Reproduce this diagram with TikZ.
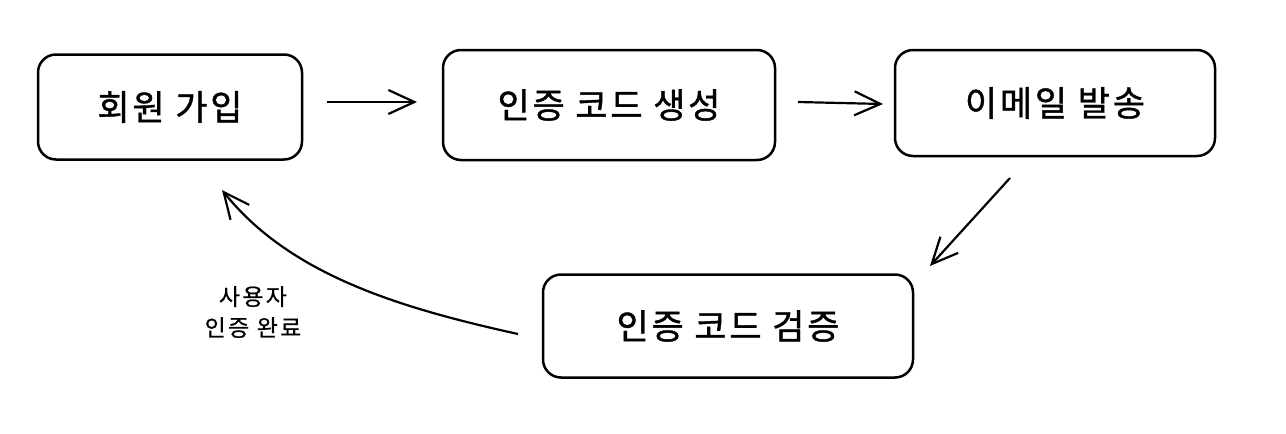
\documentclass[tikz,border=0pt]{standalone}
\usepackage{fontspec}
\setmainfont[FakeBold=1.1, LetterSpace=8]{Noto Sans CJK KR}
\newfontfamily\lblfont[FakeBold=0.6, LetterSpace=10]{Noto Sans CJK KR}
\usetikzlibrary{arrows.meta,calc}
\tikzset{
  box/.style={draw=black, line width=2.5pt, rounded corners=18pt, fill=white, font=\fontsize{35}{42}\selectfont, inner sep=0pt},
  conn/.style={line width=2.2pt, -{Straight Barb[length=26pt,width=24pt,line width=2.2pt]}},
  lbl/.style={font=\lblfont\fontsize{23}{31}\selectfont, align=center}
}
\begin{document}
\begin{tikzpicture}[x=1pt,y=-1pt]
\useasboundingbox[fill=white] (0,0) rectangle (1286,434);
\node[box, minimum width=264pt, minimum height=105pt] (b1) at (170,107) {회원 가입};
\node[box, minimum width=332pt, minimum height=110pt] (b2) at (609,105) {인증 코드 생성};
\node[box, minimum width=320pt, minimum height=106pt] (b3) at (1055,103) {이메일 발송};
\node[box, minimum width=370pt, minimum height=103pt] (b4) at (728,326) {인증 코드 검증};
\coordinate (a1s) at (327,102);
\coordinate (a1e) at (417,102);
\coordinate (a2s) at (798,102);
\coordinate (a2e) at (883,104);
\coordinate (a3s) at (1010,178);
\coordinate (a3e) at (930,266);
\coordinate (a4s) at (518,334);
\coordinate (a4e) at (222,190);
\draw[conn] (a1s) -- (a1e);
\draw[conn] (a2s) -- (a2e);
\draw[conn] (a3s) -- (a3e);
\draw[conn] (a4s) .. controls (400,308) and (290,275) .. (a4e);
\node[lbl] (l1) at (253,312) {사용자\\인증 완료};
\end{tikzpicture}
\end{document}
